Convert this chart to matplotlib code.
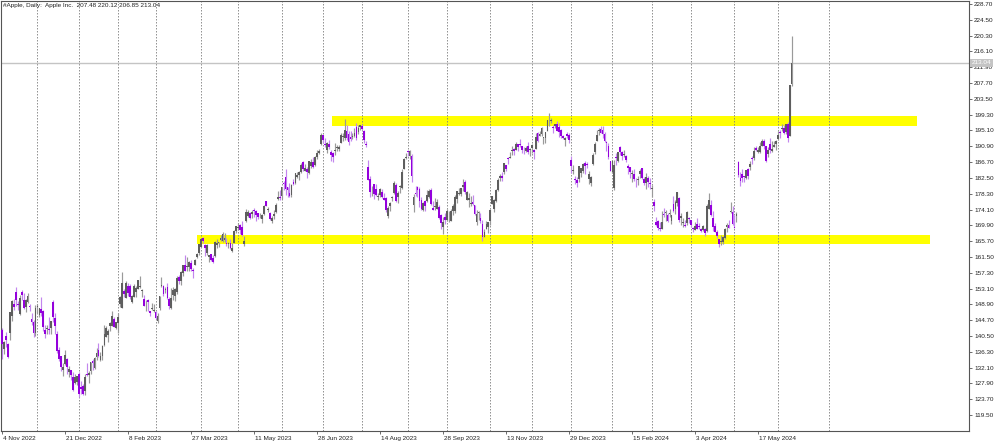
import matplotlib
matplotlib.use("Agg")
import matplotlib.pyplot as plt
import matplotlib.transforms as mtransforms
from matplotlib.patches import Rectangle
import numpy as np

# ---------------- data (AAPL daily, 4 Nov 2022 .. 12 Jun 2024) ----------------
open_ = [
    # Nov 2022
    142.09,137.11,140.41,138.50,141.24,145.82,148.97,152.22,149.13,146.43,152.31,150.16,148.13,149.45,148.31,145.14,144.29,141.40,
    # Dec 2022
    148.21,145.96,147.77,147.07,142.19,142.36,142.34,142.70,149.50,145.35,141.11,136.69,135.11,131.39,132.98,134.35,130.92,131.38,129.67,127.99,128.41,
    # Jan 2023
    130.28,126.89,127.13,126.01,130.47,130.26,131.25,133.88,132.03,134.83,136.82,134.08,135.28,138.12,140.31,140.89,143.17,143.16,144.96,142.70,
    # Feb 2023
    143.97,148.90,148.03,152.57,150.64,153.88,153.78,149.46,150.95,152.12,153.11,153.51,152.35,150.20,148.87,150.09,147.11,147.71,147.05,
    # Mar 2023
    146.83,144.38,148.04,153.79,153.70,152.81,153.56,150.21,147.81,151.28,151.19,152.16,156.08,155.07,157.32,159.30,158.83,158.86,159.94,157.97,159.37,161.53,162.44,
    # Apr 2023
    164.27,166.60,164.74,162.43,161.42,162.35,161.22,161.63,164.59,165.09,166.10,165.80,166.09,165.05,165.00,165.19,163.06,165.19,168.49,
    # May 2023
    169.28,170.09,169.50,164.89,170.98,172.48,173.05,173.02,173.85,173.62,173.16,171.99,171.71,173.00,176.39,173.98,173.13,171.09,172.41,173.32,176.96,177.33,
    # Jun 2023
    177.70,181.03,182.63,179.97,178.44,177.90,181.50,181.27,182.80,183.37,183.96,186.73,184.41,184.90,183.74,185.55,186.83,185.89,187.93,189.08,191.63,
    # Jul 2023
    193.78,191.57,189.84,191.41,189.26,189.16,189.68,190.50,190.23,191.90,193.35,193.10,195.09,194.10,193.41,193.33,193.67,196.02,194.67,196.06,
    # Aug 2023
    196.24,195.04,191.57,185.52,182.13,179.69,180.87,179.48,177.32,177.97,178.88,177.13,177.14,172.30,175.07,177.06,178.52,180.67,177.38,180.09,179.70,184.94,187.84,
    # Sep 2023
    189.49,188.28,188.40,175.18,178.35,180.07,179.49,176.51,174.00,176.48,176.48,177.52,179.26,174.55,174.67,174.20,174.82,172.62,169.34,172.02,
    # Oct 2023
    171.22,172.26,171.09,173.79,173.80,176.81,178.10,178.20,180.07,181.42,176.75,176.65,175.58,176.04,175.31,170.91,173.05,171.88,170.37,166.91,169.02,169.35,
    # Nov 2023
    171.00,175.52,174.24,176.38,179.18,182.35,182.96,183.97,185.82,187.70,187.85,189.57,190.25,189.89,191.41,191.49,190.87,189.92,189.78,190.90,189.84,
    # Dec 2023
    190.33,189.98,190.21,194.45,193.63,194.20,193.11,193.08,195.09,198.02,197.53,196.09,196.16,196.90,196.10,195.18,193.61,192.49,194.14,193.90,
    # Jan 2024
    187.15,184.22,182.15,181.99,182.09,183.92,184.35,186.54,186.06,182.16,181.27,186.09,189.33,192.30,195.02,195.42,195.22,194.27,192.01,190.94,187.04,
    # Feb 2024
    183.99,179.86,188.15,186.86,190.64,189.39,188.65,188.42,185.77,185.32,183.55,183.42,181.79,181.94,183.48,185.01,182.24,181.10,182.51,181.27,
    # Mar 2024
    179.55,176.15,170.76,171.06,169.15,169.00,172.94,173.15,172.77,172.91,171.17,175.57,174.34,175.72,177.05,171.76,170.57,170.00,170.41,171.75,
    # Apr 2024
    171.19,169.08,168.79,170.29,169.59,169.03,168.70,168.80,168.34,174.26,175.36,171.75,169.61,168.03,166.21,165.52,165.35,166.54,169.53,169.88,173.37,173.33,
    # May 2024
    169.58,172.51,186.65,182.35,183.45,182.85,182.56,184.90,185.44,187.51,187.91,190.47,189.51,189.33,191.09,192.27,190.98,188.82,191.51,189.61,190.76,191.44,
    # Jun 2024
    192.90,194.64,195.40,195.69,194.65,196.90,193.65,207.48,
]
high = [
    142.67,139.15,141.43,138.55,146.87,150.01,150.28,153.59,149.87,151.48,152.70,151.83,150.42,151.83,148.88,146.64,144.81,148.72,
    149.13,148.00,150.92,147.30,143.37,143.52,145.57,144.50,149.97,146.66,141.80,137.65,135.20,133.25,136.81,134.56,132.42,131.41,131.03,130.48,129.95,
    130.90,128.66,127.77,130.29,133.41,131.26,133.51,134.26,134.92,137.29,138.61,136.25,138.02,143.32,143.16,142.43,144.25,147.23,145.55,144.34,
    146.61,151.18,157.38,153.10,155.23,154.58,154.33,151.34,154.26,153.77,155.50,156.33,153.00,151.30,149.95,150.34,147.19,149.17,149.08,
    147.23,146.71,151.11,156.30,154.03,153.47,154.54,150.94,153.14,153.40,153.25,156.46,156.74,157.82,159.40,162.14,161.55,160.34,160.77,158.49,161.05,162.47,165.00,
    166.29,166.84,165.05,164.96,162.03,162.36,162.06,165.80,166.32,165.39,167.41,168.16,167.87,166.45,165.60,166.31,165.28,168.56,169.85,
    170.45,170.35,170.92,167.04,174.30,173.85,173.54,174.03,174.59,174.06,173.21,173.14,172.93,175.24,176.39,174.71,173.38,172.42,173.90,175.77,178.99,179.35,
    180.12,181.78,184.95,180.12,181.21,180.84,182.23,183.89,184.15,184.39,186.52,186.99,186.10,185.41,187.05,187.56,188.05,188.39,189.90,190.07,194.48,
    193.88,192.98,192.02,192.67,189.99,189.30,191.70,191.19,191.18,194.32,194.33,198.23,196.47,194.97,194.91,194.44,195.64,197.20,196.63,196.49,
    196.73,195.18,192.37,187.38,183.13,180.27,180.93,180.75,178.62,179.69,179.48,178.54,177.51,175.10,176.13,177.68,181.55,181.10,179.15,180.59,184.90,187.85,189.12,
    189.92,189.98,188.85,178.21,180.24,180.30,180.13,177.30,176.10,176.50,179.38,179.63,179.70,176.30,177.08,176.97,175.20,173.04,172.03,173.07,
    174.30,173.63,174.21,175.45,177.99,179.05,179.72,179.85,182.34,181.93,179.08,178.42,177.58,177.84,175.42,174.01,173.67,173.06,171.38,168.96,171.17,170.90,
    174.23,177.78,176.82,179.43,182.44,183.45,184.12,186.57,186.03,188.11,189.50,190.96,190.38,191.91,191.52,192.93,190.90,190.67,191.08,192.09,190.32,
    191.56,190.05,194.40,194.76,195.00,195.99,193.49,194.72,198.00,199.62,198.40,196.63,196.95,197.68,197.08,195.41,193.89,193.50,194.66,194.40,
    188.44,185.88,183.09,182.76,185.60,185.15,186.40,187.05,186.74,184.26,182.93,189.14,191.95,195.33,195.75,196.38,196.27,194.76,192.20,191.80,187.10,
    186.95,187.33,189.25,189.31,191.05,189.54,189.99,188.67,186.21,185.53,184.49,184.85,182.43,182.89,184.96,185.04,182.76,183.92,183.12,182.57,
    180.53,176.90,172.04,171.24,170.73,173.70,174.38,174.03,173.19,174.31,172.62,177.71,176.61,178.67,177.49,173.05,171.94,171.42,173.60,172.23,
    171.25,169.34,170.68,171.92,170.39,169.20,170.08,169.09,175.46,178.36,176.63,173.76,170.65,168.64,166.40,167.26,167.05,169.30,170.61,171.34,176.03,174.99,
    172.71,173.42,187.00,184.20,184.90,183.07,184.66,185.09,187.10,188.30,190.65,191.10,190.81,191.92,192.73,192.82,191.00,190.58,193.00,192.25,192.18,192.57,
    194.99,195.32,196.90,196.50,196.94,197.30,207.16,220.12,
]
low = [
    134.38,135.67,137.49,134.59,139.50,144.37,147.43,148.56,147.29,146.15,149.97,147.80,146.93,149.34,147.12,143.38,140.35,140.55,
    146.61,145.65,145.77,141.92,140.00,141.10,140.90,141.06,144.24,141.16,136.03,133.73,131.32,129.89,132.75,130.30,129.64,128.72,125.87,127.73,127.43,
    124.17,125.08,124.76,124.89,129.89,128.12,130.46,131.44,131.66,134.13,135.03,133.77,134.22,137.90,140.30,138.81,141.90,143.08,142.85,142.28,
    141.32,148.17,147.83,150.78,150.64,151.17,150.42,149.22,150.92,150.86,152.88,153.35,150.85,148.41,147.16,147.24,145.72,147.45,146.83,
    145.01,143.90,147.33,153.46,151.13,151.83,150.23,147.61,147.70,150.10,149.92,151.64,154.28,154.15,156.54,157.81,157.68,157.85,157.87,155.98,159.35,161.27,161.91,
    164.22,165.11,161.80,162.00,160.08,160.51,159.78,161.42,163.82,164.03,165.65,165.54,165.56,164.49,163.89,163.73,162.80,165.19,167.88,
    168.64,167.54,167.16,164.31,170.76,172.11,171.60,171.90,172.17,171.00,171.47,171.80,170.42,172.58,174.94,173.45,171.28,170.52,171.69,173.11,176.57,176.76,
    176.93,179.26,178.04,177.43,177.32,177.46,180.63,180.97,182.44,182.02,183.78,184.27,184.41,182.59,183.67,185.01,185.23,185.67,187.60,188.94,191.26,
    191.76,190.62,189.20,190.24,187.04,186.60,188.47,189.78,189.63,191.81,192.42,192.65,192.50,191.23,192.25,192.92,193.32,192.55,194.14,195.26,
    195.28,191.85,190.69,181.92,177.35,177.58,177.01,177.60,176.55,177.31,177.05,176.50,173.48,171.96,173.74,176.25,178.33,176.01,175.82,178.55,179.50,184.74,187.48,
    188.28,187.61,181.47,173.54,177.79,177.34,174.82,173.98,173.58,173.82,176.17,177.13,175.40,173.86,174.05,174.15,171.66,169.05,167.62,170.34,
    170.93,170.82,170.97,172.68,173.18,175.80,177.95,177.60,179.04,178.14,176.51,174.80,175.11,175.19,172.64,169.93,171.45,170.65,165.67,166.83,168.87,167.90,
    170.12,175.46,173.35,176.21,178.97,181.59,181.81,183.53,184.21,186.30,187.78,188.65,188.57,189.88,189.74,190.83,189.25,188.90,189.40,188.97,188.19,
    189.23,187.45,190.18,192.11,193.59,193.67,191.42,191.72,194.85,196.16,197.00,194.39,195.89,194.83,193.50,192.97,192.83,191.09,193.17,191.73,
    183.89,183.43,180.88,180.17,181.50,182.73,183.92,183.62,185.19,180.93,180.30,185.83,188.82,192.26,193.83,194.34,193.11,191.94,189.58,187.47,184.35,
    183.82,179.25,185.84,186.77,188.61,187.35,188.00,186.79,183.51,182.44,181.35,181.67,180.00,180.66,182.46,182.23,180.65,179.56,180.13,179.53,
    177.38,173.79,169.62,168.68,168.49,168.94,172.05,171.01,170.76,172.05,170.29,173.52,173.03,175.09,170.84,170.06,169.45,169.58,170.11,170.51,
    169.48,168.23,168.58,168.82,168.95,168.24,168.35,167.11,168.16,174.21,172.50,168.27,168.00,166.55,164.08,164.77,164.92,166.21,168.15,169.18,173.10,170.00,
    169.11,170.89,182.66,180.42,181.32,181.45,182.11,182.13,184.62,186.29,187.37,189.66,189.18,189.01,190.92,190.27,186.63,188.04,189.10,189.51,190.63,189.91,
    192.52,193.03,194.87,194.17,194.14,192.15,193.63,206.85,
]
close = [
    138.38,138.92,139.50,134.87,146.87,149.70,148.28,150.04,148.79,150.72,151.29,148.01,150.18,151.07,148.11,144.22,141.17,148.03,
    148.31,147.81,146.63,142.91,140.94,142.65,142.16,144.49,145.47,143.21,136.50,134.51,132.37,132.30,135.45,132.23,131.86,130.03,126.04,129.61,129.93,
    125.07,126.36,125.02,129.62,130.15,130.73,133.49,133.41,134.76,135.94,135.21,135.27,137.87,141.11,142.53,141.86,143.96,145.93,143.00,144.29,
    145.43,150.82,154.50,151.73,154.65,151.92,150.87,151.01,153.85,153.20,155.33,153.71,152.55,148.48,148.91,149.40,146.71,147.92,147.41,
    145.31,145.91,151.03,153.83,151.60,152.87,150.59,148.50,150.47,152.59,152.99,155.85,155.00,157.40,159.28,157.83,158.93,160.25,158.28,157.65,160.77,162.36,164.90,
    166.17,165.63,163.76,164.66,162.03,160.80,160.10,165.56,165.21,165.23,166.47,167.63,166.65,165.02,165.33,163.77,163.76,168.41,169.68,
    169.59,168.54,167.45,165.79,173.57,173.50,171.77,173.56,173.75,172.57,172.07,172.07,172.69,175.05,175.16,174.20,171.56,171.84,172.99,175.43,177.30,177.25,
    180.09,180.95,179.58,179.21,177.82,180.57,180.96,183.79,183.31,183.95,186.01,184.92,185.01,183.96,187.00,186.68,185.27,188.06,189.25,189.59,193.97,
    192.46,191.33,191.81,190.68,188.61,188.08,189.77,190.54,190.69,193.99,193.73,195.10,193.13,191.94,192.75,193.62,194.50,193.22,195.83,196.45,
    195.61,192.58,191.17,181.99,178.85,179.80,178.19,177.97,177.79,179.46,177.45,176.57,174.00,174.49,175.84,177.23,181.12,176.38,178.61,180.19,184.12,187.65,187.87,
    189.46,189.70,182.91,177.56,178.18,179.36,176.30,174.21,175.74,175.01,177.97,179.07,175.49,173.93,174.79,176.08,171.96,170.43,170.69,171.21,
    173.75,172.40,173.66,174.91,177.49,178.99,178.39,179.80,180.71,178.85,178.72,177.15,175.84,175.46,172.88,173.00,173.44,171.10,166.89,168.22,170.29,170.77,
    173.97,177.57,176.65,179.23,181.82,182.89,182.41,186.40,184.80,187.44,188.01,189.71,189.69,191.45,190.64,191.31,189.97,189.79,190.40,189.37,189.95,
    191.24,189.43,193.42,192.32,194.27,195.71,193.18,194.71,197.96,198.11,197.57,195.89,196.94,194.83,194.68,193.60,193.05,193.15,193.58,192.53,
    185.64,184.25,181.91,181.18,185.56,185.14,186.19,185.59,185.92,183.63,182.68,188.63,191.56,193.89,195.18,194.50,194.17,192.42,191.73,188.04,184.40,
    186.86,185.85,187.68,189.30,189.41,188.32,188.85,187.15,185.04,184.15,183.86,182.31,181.56,182.32,184.37,182.52,181.16,182.63,181.42,180.75,
    179.66,175.10,170.12,169.12,169.00,170.73,172.75,173.23,171.13,173.00,172.62,173.72,176.08,178.67,171.37,172.28,170.85,169.71,173.31,171.48,
    170.03,168.84,169.65,168.82,169.58,168.45,169.67,167.78,175.04,176.55,172.69,169.38,168.00,167.04,165.00,165.84,166.90,169.02,169.89,169.30,173.50,170.33,
    169.30,173.03,183.38,181.71,182.40,182.74,184.57,183.05,186.28,187.43,189.72,189.84,189.87,191.04,192.35,190.90,186.88,189.98,189.99,190.29,191.29,192.25,
    194.03,194.35,195.87,194.48,196.89,193.12,207.15,213.04,
]

# date labels (every 32 bars) and month-start bar indices (vertical grid)
date_labels = ["4 Nov 2022", "21 Dec 2022", "8 Feb 2023", "27 Mar 2023", "11 May 2023",
               "28 Jun 2023", "14 Aug 2023", "28 Sep 2023", "13 Nov 2023", "29 Dec 2023",
               "15 Feb 2024", "3 Apr 2024", "17 May 2024"]
date_label_bars = [0, 32, 64, 96, 128, 160, 192, 224, 256, 288, 320, 352, 384]
month_start_bars = [18, 39, 59, 78, 101, 120, 142, 163, 183, 206, 226, 248, 269,
                    289, 310, 330, 350, 372, 394, 420]

price_ticks = ["228.70", "224.50", "220.30", "216.10", "211.90", "207.70", "203.50",
               "199.30", "195.10", "190.90", "186.70", "182.50", "178.30", "174.10",
               "169.90", "165.70", "161.50", "157.30", "153.10", "148.90", "144.70",
               "140.50", "136.30", "132.10", "127.90", "123.70", "119.50"]

# support / resistance zones: (start bar, end bar, low price, high price)
zone_start = [167.6, 98.8]
zone_end = [464.7, 471.3]
zone_low = [196.30, 165.05]
zone_high = [198.95, 167.35]

header = "#Apple, Daily:  Apple Inc.  207.48 220.12 206.85 213.04"
last_price = 213.04

assert len(open_) == len(high) == len(low) == len(close) == 402

# ---------------- drawing ----------------
FONT = "Liberation Sans"
FS = 4.6
TXT = "#222222"

fig = plt.figure(figsize=(10, 4.43), dpi=100)
fig.patch.set_facecolor("white")
ax = fig.add_axes([1/1000, 12/443, 968/1000, 430/443])
ax.set_facecolor("white")

o = np.array(open_); h = np.array(high); l = np.array(low); c = np.array(close)
x = np.arange(len(c))
up = c >= o

bull_body, bear_body = "#5e5e5e", "#9400dc"
bull_wick, bear_wick = "#9a9a9a", "#c386ee"

# zones
for s, e, lo, hi in zip(zone_start, zone_end, zone_low, zone_high):
    ax.add_patch(Rectangle((s, lo), e - s, hi - lo, facecolor="#ffff00",
                           edgecolor="none", zorder=0.5))

# month grid
for g in month_start_bars:
    ax.axvline(g, color="#808080", lw=0.6, ls=(0, (1.8, 1.8)), zorder=1)

# current price line
ax.axhline(last_price, color="#c4c4c4", lw=1.0, zorder=1.2)

# candles
ax.vlines(x, l, h, colors=np.where(up, bull_wick, bear_wick), lw=0.85, zorder=2)
body_lo = np.minimum(o, c)
body_h = np.maximum(np.abs(c - o), 0.25)
ax.bar(x, body_h, bottom=body_lo, width=0.9,
       color=np.where(up, bull_body, bear_body), linewidth=0, zorder=3)

ax.set_xlim(-0.51, 491.1)
ax.set_ylim(115.26, 229.50)

# axes frame
for sp in ax.spines.values():
    sp.set_color("#555555")
    sp.set_linewidth(0.8)

# price axis
ax.yaxis.tick_right()
ax.set_yticks([float(t) for t in price_ticks])
ax.set_yticklabels(price_ticks)
ax.tick_params(axis="y", direction="out", length=2.5, width=0.6, color="#555555",
               pad=1.2, labelsize=FS, labelcolor=TXT)
for lab in ax.get_yticklabels():
    lab.set_fontfamily(FONT)

# date axis
ax.set_xticks(date_label_bars)
ax.set_xticklabels(date_labels, ha="left")
ax.tick_params(axis="x", direction="out", length=2.5, width=0.6, color="#555555",
               pad=0.8, labelsize=FS, labelcolor=TXT)
offset = mtransforms.ScaledTranslation(1.2 / 100, 0, fig.dpi_scale_trans)
for lab in ax.get_xticklabels():
    lab.set_fontfamily(FONT)
    lab.set_transform(lab.get_transform() + offset)

# last price tag
trans = mtransforms.blended_transform_factory(ax.transAxes, ax.transData)
ax.text(1.003, last_price, f"{last_price:.2f}", transform=trans, ha="left", va="center",
        fontsize=FS, family=FONT, color="white", clip_on=False, zorder=10,
        bbox=dict(boxstyle="square,pad=0.3", fc="#c4c4c4", ec="none"))

# header
fig.text(3/1000, 1 - 5.5/443, header, fontsize=FS, family=FONT, color=TXT,
         ha="left", va="center")

fig.savefig("out.png", dpi=100, facecolor="white")
